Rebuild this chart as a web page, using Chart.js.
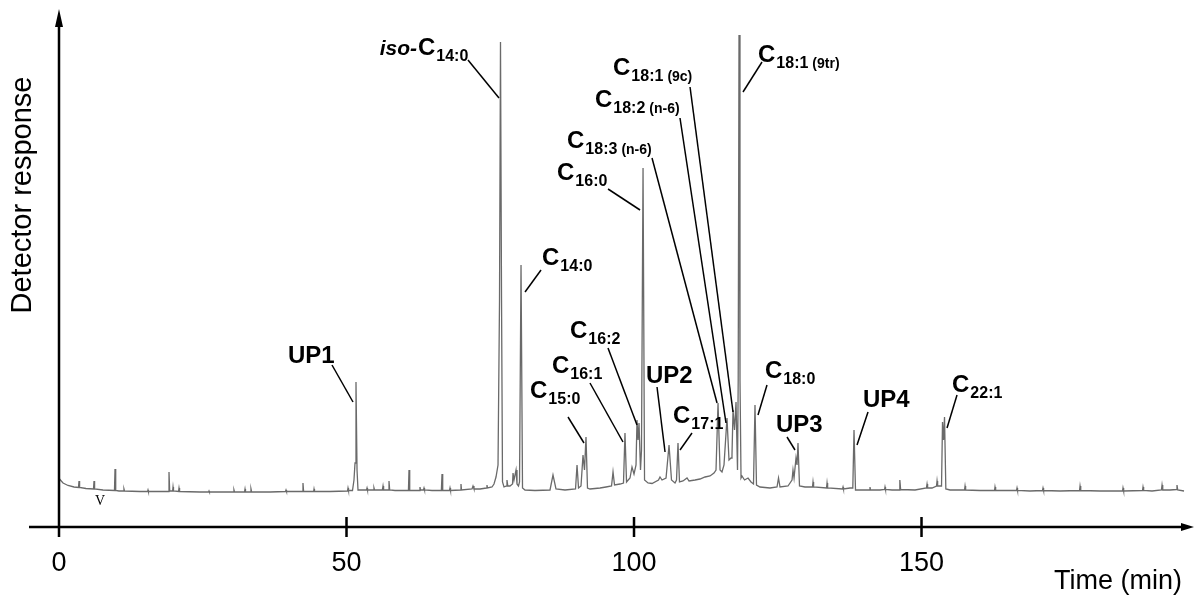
<!DOCTYPE html>
<html lang="en">
<head>
<meta charset="UTF-8">
<title>Chromatogram</title>
<script src="https://cdn.jsdelivr.net/npm/chart.js"></script>
<style>
  html, body { margin: 0; padding: 0; background: #fff; }
  #wrap { width: 1194px; height: 595px; }
</style>
</head>
<body>
<div id="wrap"><canvas id="gc" width="1194" height="595"></canvas></div>
<script>
  // retention time (min), detector response (arbitrary units)
  const traceEarly = [
    [0.09, 9.6], [0.70, 8.8], [1.57, 8.3], [2.61, 8.0],
    [3.39, 7.9], [3.48, 9.2], [3.58, 7.9], [4.70, 7.7],
    [6.00, 7.6], [6.09, 9.2], [6.19, 7.6], [7.65, 7.4],
    [9.65, 7.3], [9.74, 11.6], [9.86, 7.3], [10.43, 7.2],
    [11.23, 7.2], [11.30, 7.6], [11.39, 7.2], [14.09, 7.1],
    [15.41, 7.1], [15.48, 7.4], [15.55, 7.1],
    [19.03, 7.1], [19.13, 11.0], [19.25, 7.2],
    [19.76, 7.2], [19.83, 8.0], [19.91, 7.2],
    [20.78, 7.1], [20.87, 7.8], [20.97, 7.1], [24.52, 7.0],
    [26.02, 7.0], [26.09, 7.2], [26.16, 7.0],
    [30.35, 7.0], [30.43, 7.4], [30.52, 7.0],
    [32.26, 7.0], [32.35, 7.6], [32.43, 7.0],
    [33.30, 7.0], [33.39, 7.6], [33.50, 7.0], [36.70, 7.0],
    [39.39, 7.1], [39.48, 7.4], [39.57, 7.1],
    [42.35, 7.1], [42.43, 8.8], [42.54, 7.1],
    [44.28, 7.1], [44.35, 7.6], [44.43, 7.1], [47.13, 7.1]
  ];
  const traceUp1 = [
    [50.17, 7.2], [50.26, 7.8], [50.35, 7.3],
    [51.04, 7.3], [51.30, 9.4], [51.48, 12.8], [51.65, 29.0], [51.83, 11.4], [52.00, 7.4],
    [53.48, 7.4], [53.57, 7.8], [53.65, 7.4],
    [54.70, 7.4], [54.78, 7.8], [54.87, 7.4],
    [56.23, 7.4], [56.35, 8.2], [56.45, 7.4],
    [57.29, 7.4], [57.39, 9.2], [57.51, 7.4], [58.43, 7.3],
    [60.77, 7.3], [60.87, 11.4], [60.99, 7.3],
    [62.70, 7.3], [62.78, 8.0], [62.87, 7.4],
    [63.39, 7.4], [63.48, 7.8], [63.57, 7.4], [64.87, 7.3],
    [66.50, 7.3], [66.61, 10.6], [66.73, 7.3],
    [67.91, 7.3], [68.00, 7.8], [68.09, 7.3],
    [69.83, 7.4], [69.91, 8.6], [70.00, 7.4],
    [71.83, 7.6], [72.00, 8.2], [72.17, 7.6], [73.22, 7.6],
    [74.35, 7.8], [74.43, 8.4], [74.52, 7.8], [75.30, 8.0]
  ];
  const traceMain = [
    [75.65, 8.6], [76.00, 10.0], [76.35, 12.4], [76.61, 45.4], [76.78, 97.0], [76.96, 45.4], [77.13, 9.0], [77.39, 8.0],
    [77.83, 8.2], [77.91, 9.4], [78.05, 8.2],
    [78.43, 8.2], [78.87, 8.6], [78.96, 10.8], [79.13, 9.4], [79.48, 11.4], [79.65, 8.6], [79.91, 8.2],
    [80.09, 9.0], [80.35, 52.4], [80.61, 7.8], [81.04, 7.4], [82.78, 7.3],
    [85.39, 7.4], [85.91, 10.4], [86.43, 7.6], [88.00, 7.4],
    [89.83, 7.6], [90.09, 12.4], [90.35, 7.8],
    [90.78, 8.2], [91.13, 14.4], [91.39, 11.4], [91.65, 18.0], [91.91, 7.8],
    [92.35, 7.6], [94.09, 7.8], [95.13, 8.0],
    [96.09, 8.2], [96.35, 11.0], [96.61, 8.4], [97.57, 8.6],
    [98.17, 8.8], [98.43, 18.8], [98.70, 9.0],
    [99.30, 9.8], [99.65, 12.0], [100.00, 10.6],
    [100.35, 12.4], [100.52, 21.4], [100.70, 17.4], [100.87, 20.8], [101.13, 11.4],
    [101.30, 15.4], [101.57, 71.8], [101.83, 9.4]
  ];
  const traceLate = [
    [102.43, 8.8], [103.13, 8.7],
    [104.26, 9.4], [104.52, 10.0], [104.87, 9.4],
    [105.57, 9.8], [106.09, 16.4], [106.52, 9.4], [107.13, 8.8],
    [107.39, 9.4], [107.65, 16.8], [107.91, 9.0],
    [108.52, 9.2], [109.22, 9.8], [109.57, 9.2],
    [110.61, 9.4], [111.48, 9.6], [112.35, 10.0], [113.22, 10.2], [113.91, 10.8],
    [114.26, 11.4], [114.61, 24.8], [114.96, 11.4], [115.30, 11.0],
    [115.65, 12.4], [116.17, 21.8], [116.52, 13.4], [116.87, 13.8], [117.04, 14.4],
    [117.22, 23.4], [117.48, 19.4], [117.74, 25.0], [118.00, 11.4],
    [118.12, 29.4], [118.26, 98.4], [118.43, 29.4], [118.61, 9.8],
    [118.78, 10.2], [119.22, 9.4], [119.83, 9.8], [120.35, 9.0],
    [120.78, 8.6], [121.04, 24.4], [121.30, 8.4],
    [121.91, 8.0], [123.65, 7.8],
    [124.87, 8.0], [125.13, 9.8], [125.39, 8.0],
    [126.78, 8.2], [127.48, 9.4], [127.65, 11.4], [127.83, 9.8], [128.17, 13.8], [128.35, 12.4], [128.52, 16.8], [128.78, 8.2],
    [129.74, 8.0]
  ];
  const traceTail = [
    [131.04, 8.0], [131.13, 9.0], [131.23, 8.0],
    [133.48, 7.8], [133.57, 8.8], [133.67, 7.8],
    [136.26, 7.6], [136.35, 8.0], [136.43, 7.6], [137.57, 7.8],
    [138.05, 7.8], [138.26, 19.4], [138.52, 7.4],
    [140.96, 7.4], [141.04, 8.0], [141.13, 7.4], [142.78, 7.4],
    [143.57, 7.5], [143.65, 8.0], [143.74, 7.5], [144.87, 7.4],
    [146.09, 7.4], [146.23, 9.4], [146.37, 7.5], [148.87, 7.4],
    [150.85, 7.8], [150.96, 8.6], [151.06, 7.8], [151.83, 7.8],
    [152.61, 8.2], [152.70, 9.2], [152.80, 8.2], [153.22, 8.2],
    [153.48, 8.2], [153.65, 21.0], [153.83, 17.4], [154.00, 22.0], [154.23, 7.6],
    [154.96, 7.4],
    [157.48, 7.4], [157.57, 8.2], [157.67, 7.4], [160.17, 7.3],
    [162.70, 7.3], [162.78, 8.0], [162.89, 7.3], [165.39, 7.3],
    [166.52, 7.3], [166.61, 7.8], [166.70, 7.3], [168.87, 7.2],
    [171.04, 7.3], [171.13, 7.8], [171.23, 7.3], [174.09, 7.2],
    [177.48, 7.3], [177.57, 8.2], [177.69, 7.3], [181.04, 7.2],
    [184.96, 7.2], [185.04, 7.8], [185.15, 7.2],
    [188.43, 7.3], [188.52, 8.0], [188.63, 7.3], [190.09, 7.2],
    [191.72, 7.4], [191.83, 8.4], [191.95, 7.4], [193.22, 7.4],
    [194.33, 7.5], [194.43, 8.4], [194.56, 7.4], [195.65, 7.2],
    [196.61, 7.3], [196.70, 8.0], [196.80, 7.3], [197.22, 7.2]
  ];

  const tickValues = [0, 50, 100, 150];

  // peak apex (t, v); text and leader offsets in px from the apex
  const peakLabels = [
    { pre: 'iso-', name: 'C', sub: '14:0', t: 76.78, v: 97.0, dx: -82.5, dy: 13, line: [-32.5, 18, -1.5, 56] },
    { name: 'C', sub: '14:0', t: 80.35, v: 52.4, dx: 21, dy: 0, line: [20, 5, 4, 27] },
    { name: 'C', sub: '16:0', t: 101.57, v: 71.8, dx: -86, dy: 12, line: [-35, 21, -3, 42] },
    { name: 'C', sub: '18:3', note: '(n-6)', t: 114.61, v: 24.8, dx: -151, dy: -255, line: [-66, -245, -1, 0] },
    { name: 'C', sub: '18:2', note: '(n-6)', t: 116.17, v: 21.8, dx: -132, dy: -311, line: [-47, -300, -1, 5] },
    { name: 'C', sub: '18:1', note: '(9c)', t: 117.22, v: 23.4, dx: -120, dy: -335, line: [-43, -323, 0, 2] },
    { name: 'C', sub: '18:1', note: '(9tr)', t: 118.26, v: 98.4, dx: 19, dy: 27, line: [23, 27, 4, 57] },
    { name: 'C', sub: '16:2', t: 100.52, v: 21.4, dx: -67, dy: -82, line: [-29, -72, 0, 5] },
    { name: 'C', sub: '16:1', t: 98.43, v: 18.8, dx: -73, dy: -60, line: [-35, -50, -2, 9] },
    { name: 'C', sub: '15:0', t: 91.65, v: 18.0, dx: -56, dy: -39, line: [-18, -20, -2, 6] },
    { name: 'UP2', t: 106.09, v: 16.4, dx: -23, dy: -62, line: [-12, -58, -4, 7] },
    { name: 'C', sub: '17:1', t: 107.65, v: 16.8, dx: -5, dy: -20, line: [14, -10, 2, 7] },
    { name: 'C', sub: '18:0', t: 121.04, v: 24.4, dx: 10, dy: -27, line: [12, -20, 3, 10] },
    { name: 'UP3', t: 128.52, v: 16.8, dx: -22, dy: -11, line: [-11, -6, -3, 7] },
    { name: 'UP4', t: 138.26, v: 19.4, dx: 9, dy: -23, line: [14, -18, 3, 15] },
    { name: 'C', sub: '22:1', t: 154.00, v: 22.0, dx: 7.5, dy: -25, line: [12.5, -22, 2.5, 11] },
    { name: 'UP1', t: 51.65, v: 29.0, dx: -68, dy: -19, line: [-24, -17, -3, 20] }
  ];
  const injectionMark = { text: 'V', t: 7.13, v: 4.4 };

  const FONT = '"Liberation Sans", Arial, sans-serif';

  const drawExtras = {
    id: 'drawExtras',
    afterDatasetsDraw(chart) {
      const { ctx, scales: { x, y } } = chart;
      const x0 = x.getPixelForValue(0);
      const y0 = y.getPixelForValue(0);
      ctx.save();
      ctx.strokeStyle = '#000';
      ctx.fillStyle = '#000';

      // axes with arrows
      ctx.lineWidth = 2.5;
      ctx.beginPath();
      ctx.moveTo(x0 - 30, y0);
      ctx.lineTo(chart.width - 8, y0);
      ctx.moveTo(x0, y0 + 10);
      ctx.lineTo(x0, chart.chartArea.top + 16);
      tickValues.slice(1).forEach(v => {
        const px = x.getPixelForValue(v);
        ctx.moveTo(px, y0 - 10);
        ctx.lineTo(px, y0 + 10);
      });
      ctx.stroke();
      ctx.beginPath();
      ctx.moveTo(chart.width, y0);
      ctx.lineTo(chart.width - 13, y0 - 4);
      ctx.lineTo(chart.width - 13, y0 + 4);
      ctx.closePath();
      ctx.moveTo(x0, chart.chartArea.top + 2);
      ctx.lineTo(x0 - 4, chart.chartArea.top + 20);
      ctx.lineTo(x0 + 4, chart.chartArea.top + 20);
      ctx.closePath();
      ctx.fill();

      // y axis title
      ctx.save();
      ctx.translate(23, 195);
      ctx.rotate(-Math.PI / 2);
      ctx.font = '29px ' + FONT;
      ctx.textAlign = 'center';
      ctx.textBaseline = 'middle';
      ctx.fillText('Detector response', 0, 0);
      ctx.restore();

      // peak labels and leaders
      ctx.lineWidth = 1.5;
      ctx.textBaseline = 'alphabetic';
      peakLabels.forEach(p => {
        const px = x.getPixelForValue(p.t);
        const py = y.getPixelForValue(p.v);
        ctx.beginPath();
        ctx.moveTo(px + p.line[0], py + p.line[1]);
        ctx.lineTo(px + p.line[2], py + p.line[3]);
        ctx.stroke();
        let cx = px + p.dx;
        const by = py + p.dy;
        if (p.pre) {
          ctx.font = 'italic bold 21px ' + FONT;
          ctx.textAlign = 'right';
          ctx.fillText(p.pre, cx - 1, by);
        }
        ctx.textAlign = 'left';
        ctx.font = 'bold 24px ' + FONT;
        ctx.fillText(p.name, cx, by);
        cx += ctx.measureText(p.name).width + 1;
        if (p.sub) {
          ctx.font = 'bold 16px ' + FONT;
          ctx.fillText(p.sub, cx, by + 6);
          cx += ctx.measureText(p.sub).width + 4;
        }
        if (p.note) {
          ctx.font = 'bold 14px ' + FONT;
          ctx.fillText(p.note, cx, by + 6);
        }
      });

      ctx.font = '14px "Liberation Serif", serif';
      ctx.textAlign = 'center';
      ctx.fillText(injectionMark.text, x.getPixelForValue(injectionMark.t), y.getPixelForValue(injectionMark.v));
      ctx.restore();
    }
  };

  const trace = [...traceEarly, ...traceUp1, ...traceMain, ...traceLate, ...traceTail];

  new Chart(document.getElementById('gc'), {
    type: 'line',
    data: {
      datasets: [{
        data: trace.map(([t, v]) => ({ x: t, y: v })),
        borderColor: '#6a6a6a',
        borderWidth: 1.3,
        pointRadius: 0,
        tension: 0,
        clip: { left: 0, top: 0, right: 12, bottom: 0 }
      }]
    },
    options: {
      responsive: false,
      animation: false,
      devicePixelRatio: 1,
      layout: { padding: { left: 59, top: 7, right: 12, bottom: 0 } },
      plugins: { legend: { display: false }, tooltip: { enabled: false } },
      scales: {
        x: {
          type: 'linear',
          min: 0,
          max: 195.3,
          afterBuildTicks: s => { s.ticks = tickValues.map(v => ({ value: v })); },
          afterFit: s => { s.height = 68; },
          grid: { display: false, drawTicks: false },
          border: { display: false },
          ticks: { padding: 20, color: '#000', font: { family: FONT, size: 27 }, maxRotation: 0 },
          title: {
            display: true,
            text: 'Time (min)',
            align: 'end',
            color: '#000',
            font: { family: FONT, size: 27, lineHeight: 1 },
            padding: { top: 0, bottom: 0 }
          }
        },
        y: { display: false, min: 0, max: 104 }
      }
    },
    plugins: [drawExtras]
  });
</script>
</body>
</html>
